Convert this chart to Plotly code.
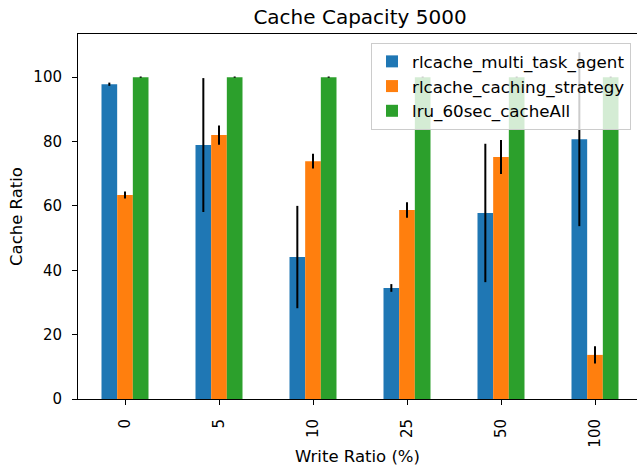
import plotly.graph_objects as go

categories = ["0", "5", "10", "25", "50", "100"]
series_names = ["rlcache_multi_task_agent", "rlcache_caching_strategy", "lru_60sec_cacheAll"]
multi_task = [97.8, 78.9, 44.1, 34.5, 57.8, 80.7]
multi_task_err = [0.5, 20.8, 15.9, 1.2, 21.5, 27.0]
caching_strategy = [63.4, 82.0, 73.9, 58.7, 75.2, 13.7]
caching_strategy_err = [1.1, 3.0, 2.3, 2.4, 5.3, 2.7]
lru = [100.0, 100.0, 100.0, 100.0, 100.0, 100.0]
lru_err = [0.2, 0.2, 0.2, 0.2, 0.2, 0.2]
colors = ["#1f77b4", "#ff7f0e", "#2ca02c"]

xs = list(range(len(categories)))
fig = go.Figure()
for name, vals, errs, col in zip(series_names,
                                 [multi_task, caching_strategy, lru],
                                 [multi_task_err, caching_strategy_err, lru_err],
                                 colors):
    fig.add_trace(go.Bar(
        x=xs, y=vals, name=name, marker=dict(color=col, line=dict(width=0)),
        error_y=dict(type="data", array=errs, visible=True, color="black",
                     thickness=2, width=0),
    ))

font = "DejaVu Sans, sans-serif"
fig.update_layout(
    width=637, height=466,
    margin=dict(l=78, r=0, t=34, b=67, autoexpand=False),
    barmode="group", bargap=0.5, bargroupgap=0,
    plot_bgcolor="white", paper_bgcolor="white",
    font=dict(family=font, size=15, color="black"),
    title=dict(text="Cache Capacity 5000", x=360 / 637, xref="container", xanchor="center",
               y=1 - 17 / 466, yanchor="middle", font=dict(size=20, color="black")),
    legend=dict(x=0.9893, y=0.9753, xanchor="right", yanchor="top",
                bgcolor="rgba(255,255,255,0.8)", bordercolor="#cccccc", borderwidth=1,
                font=dict(size=16.7), tracegroupgap=0),
    xaxis=dict(range=[-0.5, 5.5 - 5 / 94], tickvals=xs, ticktext=categories,
               tickangle=-90, showline=True, linecolor="black", linewidth=1,
               mirror=True, ticks="outside", ticklen=5, tickcolor="black",
               ticklabelstandoff=8,
               showgrid=False, zeroline=False, automargin=False,
               title=dict(text="Write Ratio (%)", standoff=10, font=dict(size=16.5))),
    yaxis=dict(range=[0, 113.4], tickvals=[0, 20, 40, 60, 80, 100],
               showline=True, linecolor="black", linewidth=1,
               ticks="outside", ticklen=5, tickcolor="black",
               ticklabelstandoff=7,
               showgrid=False, zeroline=False, automargin=False,
               title=dict(text="Cache Ratio", standoff=6, font=dict(size=16.5))),
)
fig.write_html(
    "out.html",
    config={"displayModeBar": False},
    post_script="document.body.style.margin='0';document.body.style.overflow='hidden';",
)
